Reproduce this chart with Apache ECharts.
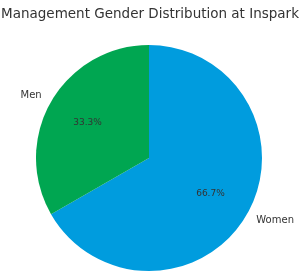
<!DOCTYPE html>
<html>
<head>
<meta charset="utf-8">
<script src="https://cdn.jsdelivr.net/npm/echarts@6/dist/echarts.min.js"></script>
<style>html,body{margin:0;padding:0;background:#fff;}#c{width:300px;height:272px;}</style>
</head>
<body>
<div id="c"></div>
<script>
const categories = ['Women', 'Men'];
const values = [66.7, 33.3];
const colors = ['#009cde', '#00a651'];
const titleText = 'Management Gender Distribution at Inspark';

const data = categories.map((c, i) => ({ name: c, value: values[i], itemStyle: { color: colors[i] } }));
const chart = echarts.init(document.getElementById('c'), null, { renderer: 'canvas' });
chart.setOption({
  animation: false,
  backgroundColor: '#fff',
  title: {
    text: titleText, left: 'center', top: 2,
    textStyle: { fontFamily: 'DejaVu Sans', fontSize: 13.5, fontWeight: 'normal', color: '#333' }
  },
  series: [
    {
      type: 'pie', center: [149, 158], radius: [0, 113], startAngle: 90, clockwise: true,
      silent: true,
      data: data,
      label: {
        show: true, position: 'outside', formatter: '{b}', distanceToLabelLine: 0,
        fontFamily: 'DejaVu Sans', fontSize: 10, color: '#333'
      },
      labelLine: { show: false, length: 11, length2: 0 },
      avoidLabelOverlap: false
    },
    {
      type: 'pie', center: [149, 158], radius: [23, 113], startAngle: 90, clockwise: true,
      silent: true,
      data: categories.map((c, i) => ({ name: c, value: values[i] })),
      itemStyle: { color: 'rgba(0,0,0,0)' },
      label: {
        show: true, position: 'inside', formatter: (p) => p.value.toFixed(1) + '%',
        fontFamily: 'DejaVu Sans', fontSize: 9, color: '#333'
      },
      labelLine: { show: false }
    }
  ]
});
</script>
</body>
</html>
